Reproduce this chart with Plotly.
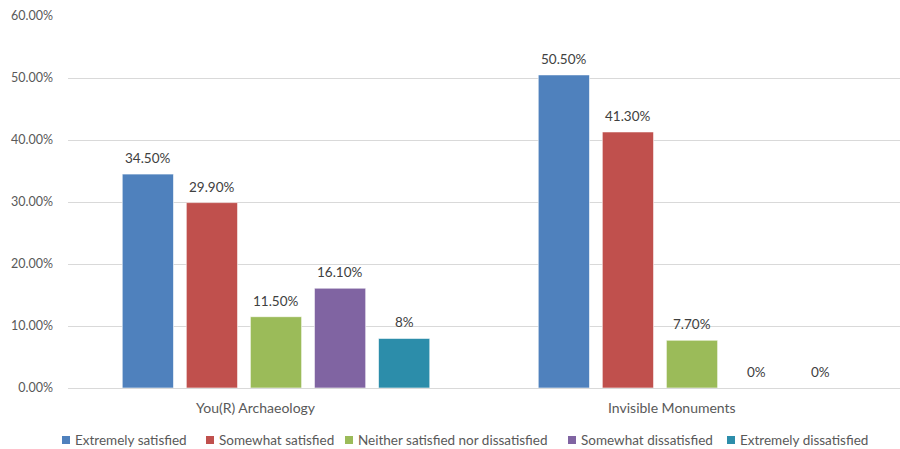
import plotly.graph_objects as go

categories = ["You(R) Archaeology", "Invisible Monuments"]
series_names = [
    "Extremely satisfied",
    "Somewhat satisfied",
    "Neither satisfied nor dissatisfied",
    "Somewhat dissatisfied",
    "Extremely dissatisfied",
]
values = [
    [34.5, 50.5],
    [29.9, 41.3],
    [11.5, 7.7],
    [16.1, 0.0],
    [8.0, 0.0],
]
labels = [
    ["34.50%", "50.50%"],
    ["29.90%", "41.30%"],
    ["11.50%", "7.70%"],
    ["16.10%", "0%"],
    ["8%", "0%"],
]
colors = ["#4F81BD", "#C0504D", "#9BBB59", "#8064A2", "#2C8DAA"]
y_ticks = [0, 10, 20, 30, 40, 50, 60]

FONT = "Lato, Calibri, 'Open Sans', sans-serif"
W, H = 900, 449
ML, MR, MT, MB = 68, 0, 16, 61
BARGAP = 0.23
N = len(series_names)

fig = go.Figure()
for name, vals, col in zip(series_names, values, colors):
    fig.add_trace(go.Bar(
        x=categories,
        y=vals,
        name=name,
        marker=dict(color=col, line=dict(color="rgba(255,255,255,0.6)", width=1)),
        showlegend=False,
    ))

# value labels above each bar, centred on the bar's slot within its group
annotations = []
slot = (1 - BARGAP) / N
for i, (vals, txt) in enumerate(zip(values, labels)):
    for ci, (v, t) in enumerate(zip(vals, txt)):
        annotations.append(dict(
            x=ci + (i - (N - 1) / 2) * slot,
            y=v,
            xref="x",
            yref="y",
            text=t,
            showarrow=False,
            yanchor="middle",
            yshift=16,
            font=dict(family=FONT, size=13.5, color="#404040"),
        ))

# category names under the axis
for ci, cat in enumerate(categories):
    annotations.append(dict(
        x=ci,
        y=0,
        xref="x",
        yref="y",
        text=cat,
        showarrow=False,
        yanchor="middle",
        yshift=-19,
        xshift=-20,
        font=dict(family=FONT, size=14, color="#595959"),
    ))

# legend row: coloured square followed by its label
legend_px = [62, 206, 345, 568, 727]
plot_w = W - ML - MR
plot_h = H - MT - MB
leg_y_px = 440
shapes = []
for px, name, col in zip(legend_px, series_names, colors):
    x0 = (px - ML) / plot_w
    x1 = (px + 8 - ML) / plot_w
    yc = (H - MB - leg_y_px) / plot_h
    ys = 4 / plot_h
    shapes.append(dict(
        type="rect", xref="paper", yref="paper",
        x0=x0, x1=x1, y0=yc - ys, y1=yc + ys,
        fillcolor=col, line=dict(width=0),
    ))
    annotations.append(dict(
        x=(px + 11 - ML) / plot_w,
        y=yc,
        xref="paper",
        yref="paper",
        text=name,
        showarrow=False,
        xanchor="left",
        yanchor="middle",
        font=dict(family=FONT, size=13.5, color="#595959"),
    ))

fig.update_layout(
    width=W,
    height=H,
    paper_bgcolor="white",
    plot_bgcolor="white",
    barmode="group",
    bargap=BARGAP,
    bargroupgap=0.2,
    margin=dict(l=ML, r=MR, t=MT, b=MB, autoexpand=False),
    font=dict(family=FONT, size=12, color="#595959"),
    showlegend=False,
    annotations=annotations,
    shapes=shapes,
)
fig.update_xaxes(
    showgrid=False,
    showline=True,
    linecolor="#D9D9D9",
    linewidth=1,
    ticks="",
    showticklabels=False,
)
fig.update_yaxes(
    range=[0, 60],
    tickvals=y_ticks,
    ticktext=[f"{v:.2f}%" for v in y_ticks],
    showgrid=True,
    gridcolor="#D9D9D9",
    gridwidth=1,
    zeroline=False,
    showline=False,
    ticks="",
    ticklabelstandoff=14,
    tickfont=dict(family=FONT, size=12.5, color="#595959"),
)

fig.write_html("out.html")
